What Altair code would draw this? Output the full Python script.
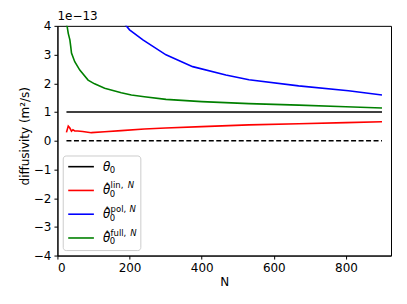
import altair as alt
import pandas as pd

# ---------------- data ----------------
series_names = ["theta0", "lin", "pol", "full"]
series_colors = ["#000000", "#ff0000", "#0000ff", "#008000"]

N_true = [25, 900]
v_true = [1.0, 1.0]

N_zero = [25, 900]
v_zero = [0.0, 0.0]

N_lin = [25, 30, 34, 39, 43, 48, 56, 70, 94, 131, 177, 241, 300, 400, 531, 669, 800, 900]
v_lin = [0.29, 0.51, 0.45, 0.33, 0.38, 0.34, 0.34, 0.32, 0.28, 0.31, 0.35, 0.41, 0.44, 0.49, 0.55, 0.59, 0.63, 0.66]

N_pol = [175, 189, 200, 237, 301, 375, 467, 531, 669, 807, 900]
v_pol = [4.25, 4.03, 3.86, 3.51, 2.99, 2.58, 2.29, 2.12, 1.91, 1.74, 1.59]

N_full = [25, 27, 30, 34.5, 37, 39, 48, 62, 85, 103, 131, 177, 205, 241, 301, 400, 531, 669, 800, 900]
v_full = [4.05, 3.97, 3.74, 3.51, 3.27, 3.05, 2.75, 2.46, 2.11, 1.98, 1.83, 1.67, 1.59, 1.53, 1.44, 1.36, 1.29, 1.24, 1.18, 1.14]

y_ticks = [-4, -3, -2, -1, 0, 1, 2, 3, 4]
x_ticks = [0, 200, 400, 600, 800]

legend_series = ["theta0", "lin", "pol", "full"]
legend_base = ["θ", "θ", "θ", "θ"]
legend_hat = ["", "ˆ", "ˆ", "ˆ"]
legend_sub = ["0", "0", "0", "0"]
legend_sup = ["", "lin,", "pol,", "full,"]
legend_supN = ["", "N", "N", "N"]

# ---------------- frames ----------------
rows = []
for name, Ns, vs in [("theta0", N_true, v_true), ("lin", N_lin, v_lin),
                     ("pol", N_pol, v_pol), ("full", N_full, v_full)]:
    for n, v in zip(Ns, vs):
        rows.append({"series": name, "N": n, "value": v})
df = pd.DataFrame(rows)
df_zero = pd.DataFrame({"N": N_zero, "value": v_zero})
df_leg = pd.DataFrame({"series": legend_series, "base": legend_base, "hat": legend_hat,
                       "sub": legend_sub, "sup": legend_sup, "supN": legend_supN})

W, H = 334, 230
xscale = alt.Scale(domain=[0, 925], nice=False, zero=False)
yscale = alt.Scale(domain=[-4, 4], nice=False)
cscale = alt.Scale(domain=series_names, range=series_colors)

xenc = alt.X("N:Q", scale=xscale,
             axis=alt.Axis(values=x_ticks, format="d", title="N", grid=False))
yenc = alt.Y("value:Q", scale=yscale,
             axis=alt.Axis(values=y_ticks, format="d", title="diffusivity (m²/s)", grid=False,
                           titleY=110))

zero_line = alt.Chart(df_zero).mark_line(color="black", strokeWidth=1.6, strokeDash=[5, 2.5],
                                         clip=True).encode(x=xenc, y=yenc)
lines = alt.Chart(df).mark_line(strokeWidth=1.6, clip=True).encode(
    x=xenc, y=yenc,
    color=alt.Color("series:N", scale=cscale, legend=None),
    detail="series:N",
)

offset_text = alt.Chart(pd.DataFrame({"t": ["1e−13"]})).mark_text(
    align="left", baseline="bottom", fontSize=12, font="DejaVu Sans", color="black"
).encode(x=alt.value(0), y=alt.value(-3), text="t:N")

# ---------------- custom legend ----------------
leg_base = alt.Chart(df_leg).transform_calculate(
    idx="indexof(['theta0','lin','pol','full'], datum.series)"
).transform_calculate(
    ly="141 + datum.idx * 23.8"
)

box = alt.Chart(pd.DataFrame({"a": [0]})).mark_rect(
    fill="white", fillOpacity=0.8, stroke="#cccccc", strokeWidth=1, cornerRadius=3
).encode(x=alt.value(5.8), x2=alt.value(83.5), y=alt.value(130.3), y2=alt.value(225))

leg_lines = leg_base.mark_rule(strokeWidth=1.6).encode(
    x=alt.value(10.8), x2=alt.value(36.5),
    y=alt.Y("ly:Q", scale=None),
    color=alt.Color("series:N", scale=cscale, legend=None),
)
leg_theta = leg_base.transform_calculate(ty="datum.ly + 4").mark_text(
    align="left", baseline="alphabetic", fontSize=12, fontStyle="italic",
    font="DejaVu Sans", color="black"
).encode(x=alt.value(45.5), y=alt.Y("ty:Q", scale=None), text="base:N")
leg_hat = leg_base.transform_calculate(ty="datum.ly + 3").mark_text(
    align="center", baseline="alphabetic", fontSize=12,
    font="DejaVu Sans", color="black"
).encode(x=alt.value(49.8), y=alt.Y("ty:Q", scale=None), text="hat:N")
leg_sub = leg_base.transform_calculate(ty="datum.ly + 6.5").mark_text(
    align="left", baseline="alphabetic", fontSize=8.5, font="DejaVu Sans", color="black"
).encode(x=alt.value(52.5), y=alt.Y("ty:Q", scale=None), text="sub:N")
leg_sup = leg_base.transform_calculate(ty="datum.ly - 2.3").mark_text(
    align="left", baseline="alphabetic", fontSize=8.5, font="DejaVu Sans", color="black"
).encode(x=alt.value(53.2), y=alt.Y("ty:Q", scale=None), text="sup:N")
leg_supN = leg_base.transform_calculate(
    ty="datum.ly - 2.3",
    tx="53.2 + (datum.series == 'lin' ? 17.3 : (datum.series == 'pol' ? 19 : 19.8))",
).mark_text(
    align="left", baseline="alphabetic", fontSize=8.5, fontStyle="italic",
    font="DejaVu Sans", color="black"
).encode(x=alt.X("tx:Q", scale=None), y=alt.Y("ty:Q", scale=None), text="supN:N")

chart = alt.layer(
    zero_line, lines, offset_text, box, leg_lines, leg_theta, leg_hat, leg_sub, leg_sup, leg_supN
).properties(
    width=W, height=H,
    autosize=alt.AutoSizeParams(type="none"),
    padding={"left": 49.5, "top": 17.7, "right": 8, "bottom": 40},
).configure_view(
    stroke="black", strokeWidth=1
).configure_axis(
    labelFont="DejaVu Sans", titleFont="DejaVu Sans",
    labelFontSize=12, titleFontSize=12, titleFontWeight="normal",
    labelColor="black", titleColor="black",
    domainColor="black", tickColor="black", domainWidth=1, tickWidth=1,
    tickSize=3.5, labelPadding=3,
).configure_axisX(
    titlePadding=3,
).configure_axisY(
    titlePadding=2,
)

chart.save("out.html", embed_options={"renderer": "svg", "actions": False})
